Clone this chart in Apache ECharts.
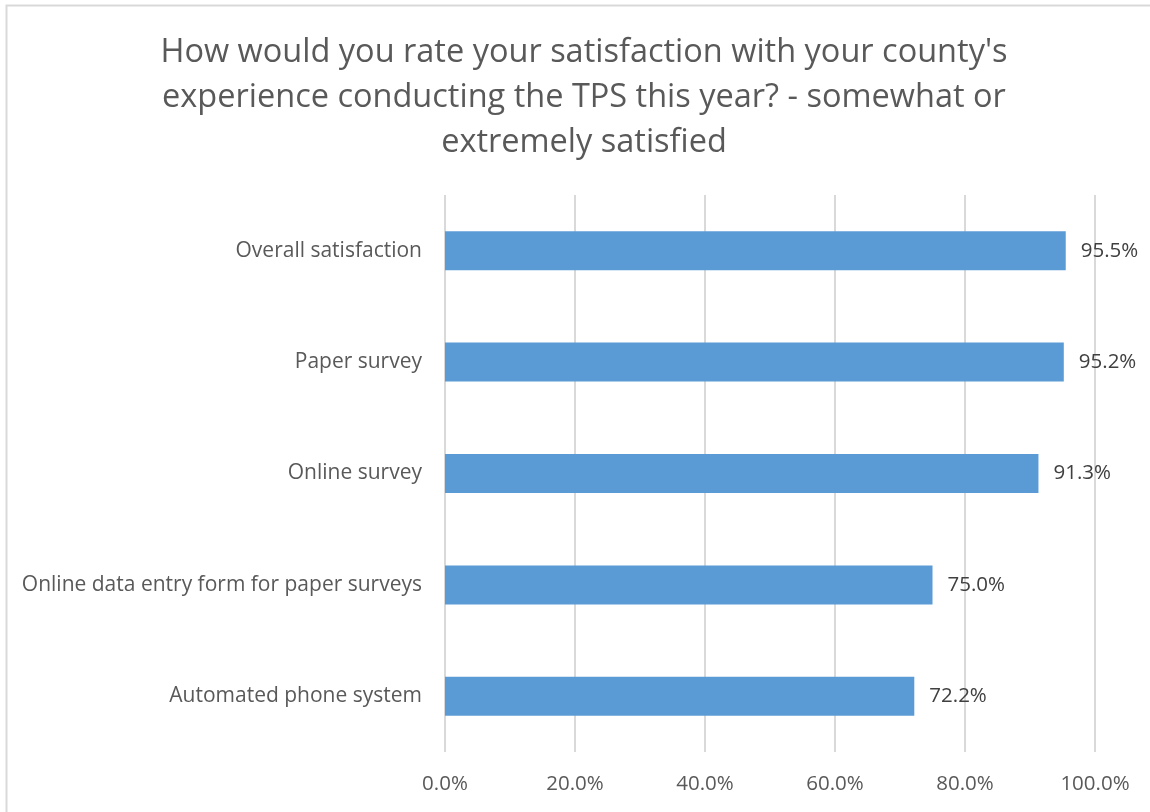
<!DOCTYPE html>
<html>
<head>
<meta charset="utf-8">
<script src="https://cdn.jsdelivr.net/npm/echarts@6/dist/echarts.min.js"></script>
<style>
  html, body { margin: 0; padding: 0; background: #fff; }
  #chart { width: 1150px; height: 812px; }
</style>
</head>
<body>
<div id="chart"></div>
<script>
// Survey categories, top to bottom
const categories = [
  'Overall satisfaction',
  'Paper survey',
  'Online survey',
  'Online data entry form for paper surveys',
  'Automated phone system'
];
// Share somewhat or extremely satisfied (%)
const satisfied = [95.5, 95.2, 91.3, 75.0, 72.2];
// Value axis ticks (%)
const axisTicks = [0, 20, 40, 60, 80, 100];

const chart = echarts.init(document.getElementById('chart'), null, { renderer: 'canvas' });

const font = '"Open Sans", "Noto Sans", sans-serif';

chart.setOption({
  animation: false,
  backgroundColor: '#ffffff',
  textStyle: { fontFamily: font },
  graphic: [{
    type: 'rect',
    shape: { x: 6.5, y: 5.5, width: 1300, height: 900 },
    style: { fill: 'none', stroke: '#d9d9d9', lineWidth: 2 },
    silent: true
  }],
  title: {
    text: "How would you rate your satisfaction with your county's\nexperience conducting the TPS this year? - somewhat or\nextremely satisfied",
    left: 579,
    top: 25,
    textAlign: 'center',
    textStyle: {
      fontFamily: font,
      fontSize: 32.5,
      fontWeight: 'normal',
      color: '#595959',
      lineHeight: 45
    }
  },
  grid: {
    left: 445,
    right: 55,
    top: 195,
    bottom: 60,
    containLabel: false
  },
  xAxis: {
    type: 'value',
    min: axisTicks[0],
    max: axisTicks[axisTicks.length - 1],
    interval: axisTicks[1] - axisTicks[0],
    axisLine: { show: false },
    axisTick: { show: false },
    splitLine: { show: true, lineStyle: { color: '#d9d9d9', width: 2 } },
    axisLabel: {
      fontFamily: font,
      fontSize: 20.5,
      color: '#595959',
      margin: 22,
      formatter: v => v.toFixed(1) + '%'
    }
  },
  yAxis: {
    type: 'category',
    data: categories,
    inverse: true,
    axisLine: { show: false },
    axisTick: { show: false },
    axisLabel: {
      fontFamily: font,
      fontSize: 21,
      color: '#595959',
      margin: 23
    }
  },
  series: [{
    type: 'bar',
    data: satisfied,
    barWidth: 39,
    itemStyle: { color: '#5b9bd5' },
    label: {
      show: true,
      position: 'right',
      distance: 15,
      fontFamily: font,
      fontSize: 20.5,
      color: '#404040',
      formatter: p => p.value.toFixed(1) + '%'
    }
  }]
});
</script>
</body>
</html>
